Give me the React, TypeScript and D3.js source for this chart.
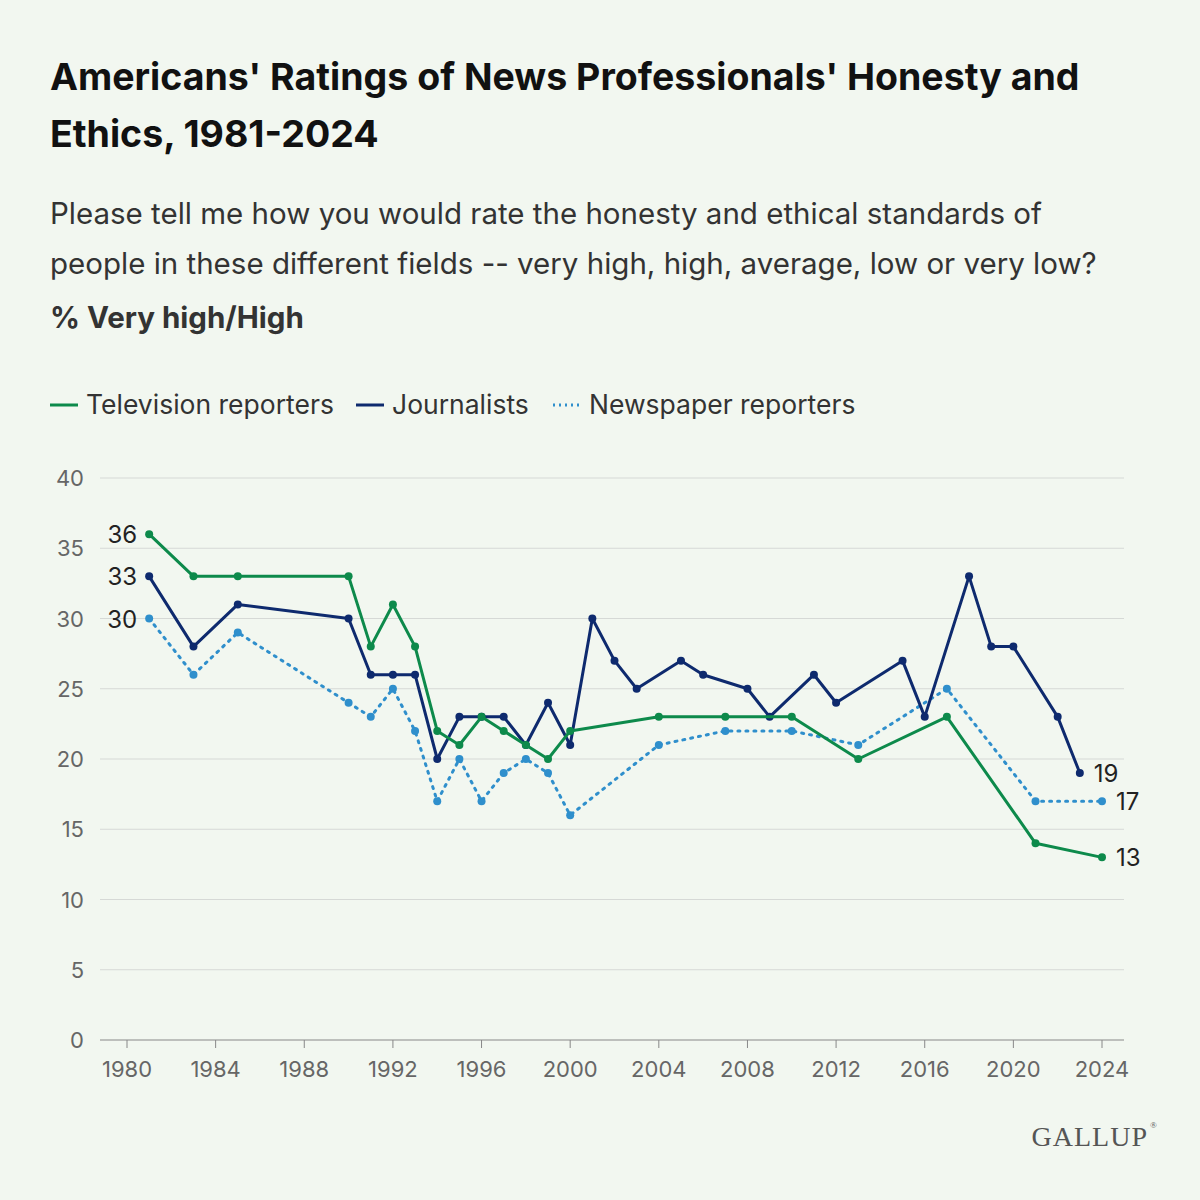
import * as d3 from 'd3';

const tvYears = [1981, 1983, 1985, 1990, 1991, 1992, 1993, 1994, 1995, 1996, 1997, 1998, 1999, 2000, 2004, 2007, 2010, 2013, 2017, 2021, 2024];
const tvValues = [36, 33, 33, 33, 28, 31, 28, 22, 21, 23, 22, 21, 20, 22, 23, 23, 23, 20, 23, 14, 13];

const jYears = [1981, 1983, 1985, 1990, 1991, 1992, 1993, 1994, 1995, 1996, 1997, 1998, 1999, 2000, 2001, 2002, 2003, 2005, 2006, 2008, 2009, 2011, 2012, 2015, 2016, 2018, 2019, 2020, 2022, 2023];
const jValues = [33, 28, 31, 30, 26, 26, 26, 20, 23, 23, 23, 21, 24, 21, 30, 27, 25, 27, 26, 25, 23, 26, 24, 27, 23, 33, 28, 28, 23, 19];

const npYears = [1981, 1983, 1985, 1990, 1991, 1992, 1993, 1994, 1995, 1996, 1997, 1998, 1999, 2000, 2004, 2007, 2010, 2013, 2017, 2021, 2024];
const npValues = [30, 26, 29, 24, 23, 25, 22, 17, 20, 17, 19, 20, 19, 16, 21, 22, 22, 21, 25, 17, 17];

const xTicks = [1980, 1984, 1988, 1992, 1996, 2000, 2004, 2008, 2012, 2016, 2020, 2024];
const yTicks = [0, 5, 10, 15, 20, 25, 30, 35, 40];

const GREEN = '#0d8a4b';
const NAVY = '#0e2a6e';
const BLUE = '#2f8fcc';
const font = 'Inter, "Noto Sans", sans-serif';

const series = [
  { name: 'Television reporters', years: tvYears, values: tvValues, color: GREEN, dash: '', first: 36, last: 13 },
  { name: 'Journalists', years: jYears, values: jValues, color: NAVY, dash: '', first: 33, last: 19 },
  { name: 'Newspaper reporters', years: npYears, values: npValues, color: BLUE, dash: '2 6', first: 30, last: 17 },
];

export default function App() {
  const x = d3.scaleLinear().domain([1980, 2024]).range([127, 1102]);
  const y = d3.scaleLinear().domain([0, 40]).range([1040, 478]);
  const line = d3.line<[number, number]>().x((d) => x(d[0])).y((d) => y(d[1]));

  return (
    <svg width={1200} height={1200} style={{ position: 'absolute', left: 0, top: 0, background: '#f2f7f0' }} fontFamily={font}>
      <text x={50} y={90} fontSize={37.5} fontWeight={700} fill="#111">Americans' Ratings of News Professionals' Honesty and</text>
      <text x={50} y={147} fontSize={37.5} fontWeight={700} fill="#111">Ethics, 1981-2024</text>
      <text x={50} y={224} fontSize={29.5} fill="#333">Please tell me how you would rate the honesty and ethical standards of</text>
      <text x={50} y={274} fontSize={29.5} fill="#333">people in these different fields -- very high, high, average, low or very low?</text>
      <text x={50} y={328} fontSize={29.5} fontWeight={700} fill="#333">% Very high/High</text>

      {series.map((s, i) => {
        const lx = [50, 356, 553][i];
        return (
          <g key={s.name}>
            <line x1={lx} x2={lx + 28} y1={405} y2={405} stroke={s.color} strokeWidth={3} strokeDasharray={s.dash ? '2 4' : ''} />
            <text x={lx + 36} y={414} fontSize={26.5} fill="#333">{s.name}</text>
          </g>
        );
      })}

      {yTicks.map((t) => (
        <g key={t}>
          <line x1={100} x2={1124} y1={y(t)} y2={y(t)} stroke={t === 0 ? '#888' : '#d6d9d6'} strokeWidth={1} />
          <text x={84} y={y(t) + 8} fontSize={22} fill="#666" textAnchor="end">{t}</text>
        </g>
      ))}
      {xTicks.map((t) => (
        <g key={t}>
          <line x1={x(t)} x2={x(t)} y1={1040} y2={1048} stroke="#888" />
          <text x={x(t)} y={1077} fontSize={22} fill="#666" textAnchor="middle">{t}</text>
        </g>
      ))}

      {series.slice().reverse().map((s) => {
        const pts = s.years.map((yr, i) => [yr, s.values[i]] as [number, number]);
        const lp = pts[pts.length - 1];
        return (
          <g key={s.name}>
            <path d={line(pts) ?? ''} fill="none" stroke={s.color} strokeWidth={3} strokeDasharray={s.dash} strokeLinecap="round" strokeLinejoin="round" />
            {pts.map((p) => (
              <circle key={p[0]} cx={x(p[0])} cy={y(p[1])} r={4} fill={s.color} />
            ))}
            <text x={x(pts[0][0]) - 12} y={y(pts[0][1]) + 9} fontSize={24} fill="#222" textAnchor="end">{s.first}</text>
            <text x={x(lp[0]) + 14} y={y(lp[1]) + 9} fontSize={24} fill="#222">{s.last}</text>
          </g>
        );
      })}

      <text x={1148} y={1146} fontSize={28} fill="#555" textAnchor="end" fontFamily='"Liberation Serif", serif' letterSpacing={1}>GALLUP</text>
      <text x={1150} y={1128} fontSize={9} fill="#555" fontFamily='"Liberation Serif", serif'>®</text>
    </svg>
  );
}
